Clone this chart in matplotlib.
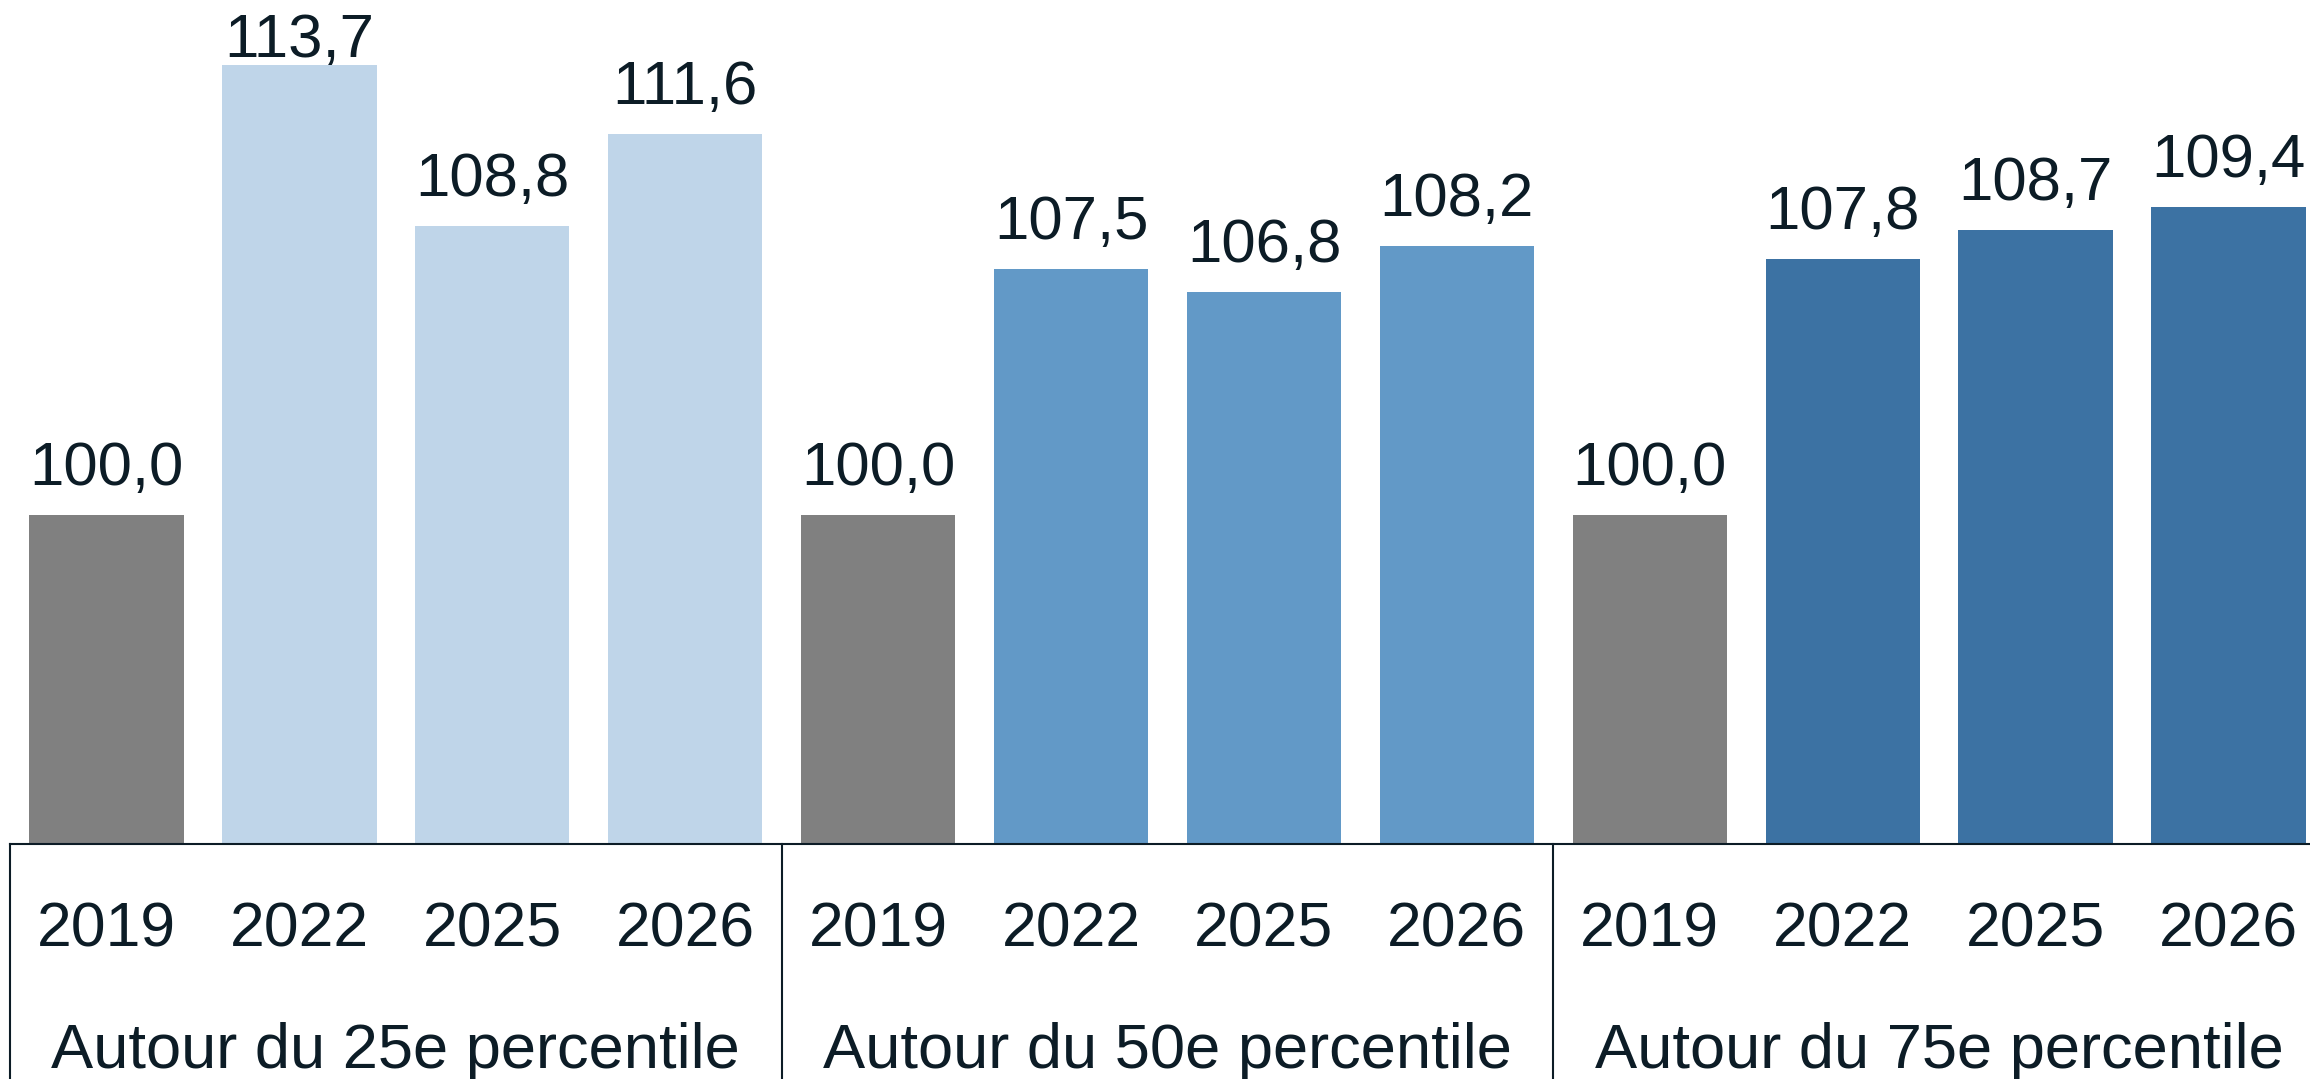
import matplotlib
matplotlib.use("Agg")
import matplotlib.pyplot as plt
import matplotlib.transforms as mtransforms

plt.rcParams['font.family'] = ['Liberation Sans', 'DejaVu Sans']

groups = ["Autour du 25e percentile", "Autour du 50e percentile", "Autour du 75e percentile"]
years = ["2019", "2022", "2025", "2026"]
values_p25 = [100.0, 113.7, 108.8, 111.6]
values_p50 = [100.0, 107.5, 106.8, 108.2]
values_p75 = [100.0, 107.8, 108.7, 109.4]
group_values = [values_p25, values_p50, values_p75]
group_colors = ["#BFD5E9", "#6299C7", "#3C72A3"]
base_color = "#808080"
text_color = "#0C1C26"

W, H = 2310, 1079
fig = plt.figure(figsize=(W / 100, H / 100), dpi=100)
base_px = 844
ax = fig.add_axes([10 / W, (H - base_px) / H, 2315 / W, base_px / H])

ymin, ymax = 90, 115.69
n_years = len(years)
fs_val = 44.5
fs_year = 45
fs_group = 45.5
blend = mtransforms.blended_transform_factory(ax.transData, ax.transAxes)

xpos = 0
for g, (gname, vals) in enumerate(zip(groups, group_values)):
    for j, (yr, v) in enumerate(zip(years, vals)):
        col = base_color if j == 0 else group_colors[g]
        ax.bar(xpos, v - ymin, bottom=ymin, width=0.8, color=col, linewidth=0)
        ylab = min(v + 30 / 32.85, ymax - 57 / 32.85)
        ax.text(xpos, ylab, f"{v:.1f}".replace(".", ","), ha="center", va="baseline",
                fontsize=fs_val, color=text_color, clip_on=False)
        ax.text(xpos, -0.122, yr, transform=blend,
                ha="center", va="baseline", fontsize=fs_year, color=text_color, clip_on=False)
        xpos += 1
    center = g * n_years + (n_years - 1) / 2
    ax.text(center, -0.265, gname, transform=blend,
            ha="center", va="baseline", fontsize=fs_group, color=text_color, clip_on=False)

for g in range(len(groups)):
    xd = g * n_years - 0.5
    ax.plot([xd, xd], [0, -0.3], transform=blend, color=text_color, linewidth=1.5, clip_on=False)

ax.set_xlim(-0.5, len(groups) * n_years - 0.5)
ax.set_ylim(ymin, ymax)
for s in ["top", "right", "left"]:
    ax.spines[s].set_visible(False)
ax.spines["bottom"].set_color(text_color)
ax.spines["bottom"].set_linewidth(1.5)
ax.set_xticks([])
ax.set_yticks([])

fig.savefig("out.png", dpi=100)
